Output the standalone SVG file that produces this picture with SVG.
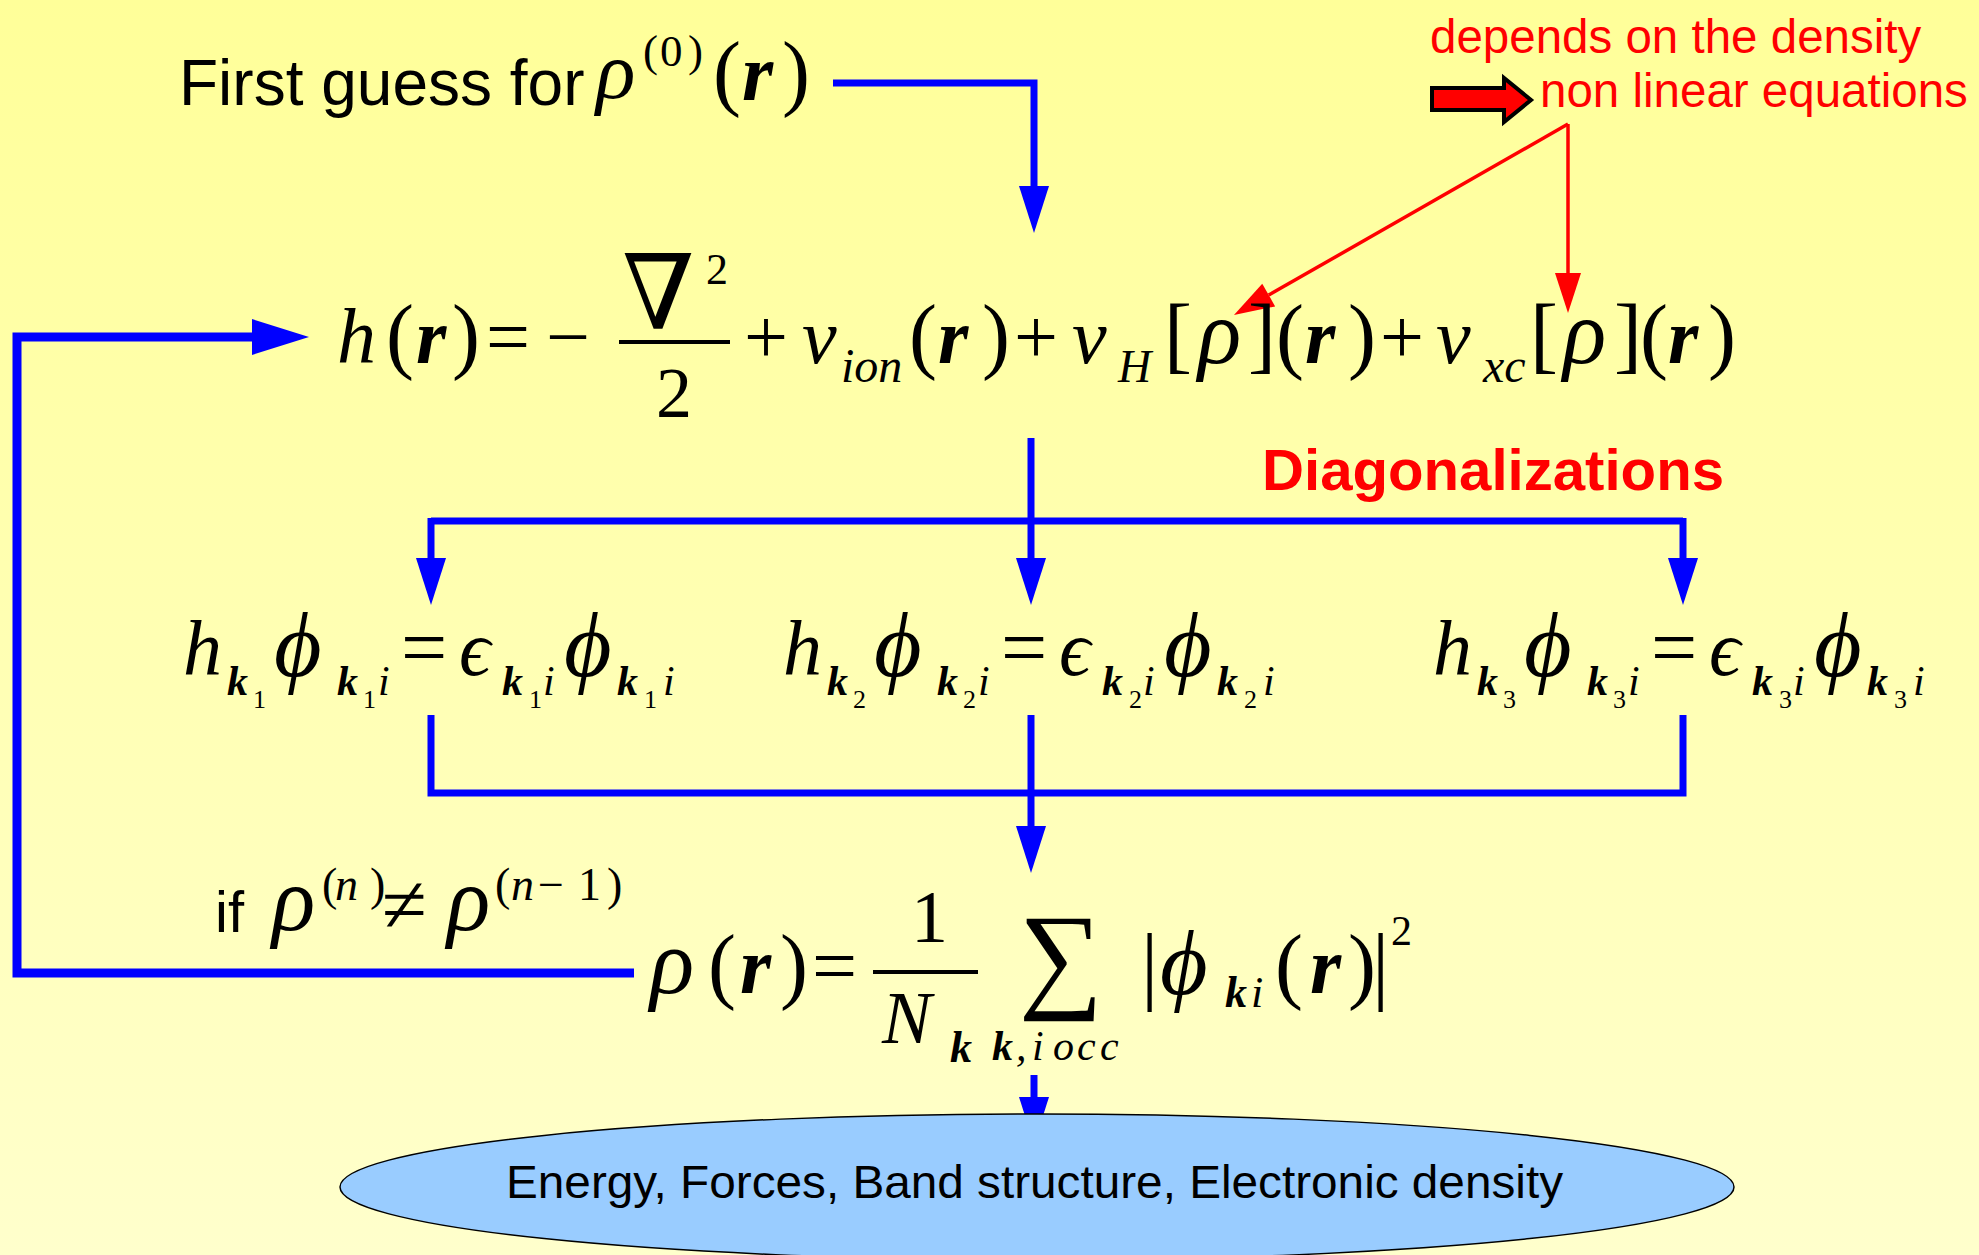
<svg xmlns="http://www.w3.org/2000/svg" width="1979" height="1255" viewBox="0 0 1979 1255">
<defs>
<linearGradient id="bg" x1="0" y1="0" x2="0" y2="1">
<stop offset="0" stop-color="#FFFF99"/>
<stop offset="1" stop-color="#FFFFCC"/>
</linearGradient>
<marker id="bh" markerUnits="userSpaceOnUse" markerWidth="48" markerHeight="30" refX="0" refY="15" orient="auto" overflow="visible">
<path d="M0,0 L47,15 L0,30 Z" fill="#0000FF"/>
</marker>
<marker id="bhBig" markerUnits="userSpaceOnUse" markerWidth="58" markerHeight="36" refX="0" refY="18" orient="auto" overflow="visible">
<path d="M0,0 L57,18 L0,36 Z" fill="#0000FF"/>
</marker>
<marker id="rh" markerUnits="userSpaceOnUse" markerWidth="40" markerHeight="26" refX="0" refY="13" orient="auto" overflow="visible">
<path d="M0,0 L40,13 L0,26 Z" fill="#FF0000"/>
</marker>
<style>
.m{font-family:"Liberation Serif","DejaVu Serif",serif;fill:#000}
.i{font-style:italic}
.b{font-weight:bold}
.sans{font-family:"Liberation Sans",Arial,sans-serif}
.blue{fill:none;stroke:#0000FF;stroke-width:7}
.loop{fill:none;stroke:#0000FF;stroke-width:9}
.red{fill:none;stroke:#FF0000;stroke-width:3.5}
.note{font-family:"Liberation Sans",Arial,sans-serif;font-size:47.5px;fill:#FF0000}
</style>
</defs>
<rect x="0" y="0" width="1979" height="1255" fill="url(#bg)"/>

<g id="connectors">
<path class="blue" d="M833,83 H1034 V186" marker-end="url(#bh)"/>
<path class="loop" d="M634,973 H17 V337 H252" marker-end="url(#bhBig)"/>
<path class="blue" d="M1031,438 V558" marker-end="url(#bh)"/>
<path class="blue" d="M431,521 H1683"/>
<path class="blue" d="M431,518 V558" marker-end="url(#bh)"/>
<path class="blue" d="M1683,518 V558" marker-end="url(#bh)"/>
<path class="blue" d="M431,715 V793 H1683 V715"/>
<path class="blue" d="M1031,715 V826" marker-end="url(#bh)"/>
<path class="blue" d="M1034,1075 V1097" marker-end="url(#bh)"/>
<path class="red" d="M1568,124 V273" marker-end="url(#rh)"/>
<path class="red" d="M1568,124 L1268.7,295.1" marker-end="url(#rh)"/>
</g>

<g id="note">
<text class="note" x="1430" y="53">depends on the density</text>
<polygon points="1432,88 1504,88 1504,78 1531,100 1504,122 1504,110 1432,110" fill="#FF0000" stroke="#000" stroke-width="4"/>
<text class="note" x="1540" y="107">non linear equations</text>
</g>

<g id="first-guess">
<text class="sans" x="179" y="105" font-size="64">First guess for</text>
<text class="m i" font-size="82" x="596" y="98">ρ</text>
<text class="m" font-size="45" y="66"><tspan x="643">(</tspan><tspan x="660">0</tspan><tspan x="688">)</tspan></text>
<text class="m" font-size="84" y="100"><tspan x="713">(</tspan><tspan x="782">)</tspan></text>
<text class="m i b" font-size="80" x="742" y="100">r</text>
</g>

<g id="hamiltonian">
<text class="m i" font-size="78" x="337" y="363">h</text>
<text class="m" font-size="84" y="363"><tspan x="386">(</tspan><tspan x="452">)</tspan></text>
<text class="m i b" font-size="78" x="416" y="363">r</text>
<text class="m" font-size="78" y="363"><tspan x="486">=</tspan><tspan x="546">−</tspan></text>
<text font-family="DejaVu Serif,serif" font-size="104" x="622" y="329">∇</text>
<text class="m" font-size="44" x="706" y="284">2</text>
<line x1="619" y1="342" x2="730" y2="342" stroke="#000" stroke-width="4"/>
<text class="m" font-size="72" x="656" y="417">2</text>
<text class="m" font-size="78" x="744" y="363">+</text>
<text class="m i" font-size="78" x="802" y="363">v</text>
<text class="m i" font-size="48" x="841" y="382">ion</text>
<text class="m" font-size="84" y="363"><tspan x="909">(</tspan><tspan x="982">)</tspan></text>
<text class="m i b" font-size="78" x="938" y="363">r</text>
<text class="m" font-size="78" x="1014" y="363">+</text>
<text class="m i" font-size="78" x="1072" y="363">v</text>
<text class="m i" font-size="46" x="1118" y="382">H</text>
<text class="m" font-size="84" y="363"><tspan x="1164">[</tspan><tspan x="1248">]</tspan></text>
<text class="m i" font-size="90" x="1198" y="363">ρ</text>
<text class="m" font-size="84" y="363"><tspan x="1276">(</tspan><tspan x="1348">)</tspan></text>
<text class="m i b" font-size="78" x="1305" y="363">r</text>
<text class="m" font-size="78" x="1380" y="363">+</text>
<text class="m i" font-size="78" x="1436" y="363">v</text>
<text class="m i" font-size="48" x="1483" y="382">xc</text>
<text class="m" font-size="84" y="363"><tspan x="1530">[</tspan><tspan x="1614">]</tspan></text>
<text class="m i" font-size="90" x="1563" y="363">ρ</text>
<text class="m" font-size="84" y="363"><tspan x="1640">(</tspan><tspan x="1708">)</tspan></text>
<text class="m i b" font-size="78" x="1668" y="363">r</text>
</g>

<g id="diag-label">
<text class="sans b" font-size="57" x="1262" y="490" fill="#FF0000" textLength="462" lengthAdjust="spacingAndGlyphs">Diagonalizations</text>
</g>

<g id="eig-1">
<text class="m i" font-size="78" x="183" y="675">h</text>
<text class="m i b" font-size="42" x="227" y="695">k</text>
<text class="m" font-size="26" x="253" y="708">1</text>
<text class="m i" font-size="92" x="274" y="676">ϕ</text>
<text class="m i b" font-size="42" x="337" y="695">k</text>
<text class="m" font-size="26" x="363" y="708">1</text>
<text class="m i" font-size="42" x="378" y="695">i</text>
<text class="m" font-size="82" x="401" y="675">=</text>
<text class="m i" font-size="78" x="459" y="675">ϵ</text>
<text class="m i b" font-size="42" x="502" y="695">k</text>
<text class="m" font-size="26" x="529" y="708">1</text>
<text class="m i" font-size="42" x="543" y="695">i</text>
<text class="m i" font-size="92" x="564" y="676">ϕ</text>
<text class="m i b" font-size="42" x="617" y="695">k</text>
<text class="m" font-size="26" x="644" y="708">1</text>
<text class="m i" font-size="42" x="663" y="695">i</text>
</g>

<g id="eig-2" transform="translate(600,0)">
<text class="m i" font-size="78" x="183" y="675">h</text>
<text class="m i b" font-size="42" x="227" y="695">k</text>
<text class="m" font-size="26" x="253" y="708">2</text>
<text class="m i" font-size="92" x="274" y="676">ϕ</text>
<text class="m i b" font-size="42" x="337" y="695">k</text>
<text class="m" font-size="26" x="363" y="708">2</text>
<text class="m i" font-size="42" x="378" y="695">i</text>
<text class="m" font-size="82" x="401" y="675">=</text>
<text class="m i" font-size="78" x="459" y="675">ϵ</text>
<text class="m i b" font-size="42" x="502" y="695">k</text>
<text class="m" font-size="26" x="529" y="708">2</text>
<text class="m i" font-size="42" x="543" y="695">i</text>
<text class="m i" font-size="92" x="564" y="676">ϕ</text>
<text class="m i b" font-size="42" x="617" y="695">k</text>
<text class="m" font-size="26" x="644" y="708">2</text>
<text class="m i" font-size="42" x="663" y="695">i</text>
</g>

<g id="eig-3" transform="translate(1250,0)">
<text class="m i" font-size="78" x="183" y="675">h</text>
<text class="m i b" font-size="42" x="227" y="695">k</text>
<text class="m" font-size="26" x="253" y="708">3</text>
<text class="m i" font-size="92" x="274" y="676">ϕ</text>
<text class="m i b" font-size="42" x="337" y="695">k</text>
<text class="m" font-size="26" x="363" y="708">3</text>
<text class="m i" font-size="42" x="378" y="695">i</text>
<text class="m" font-size="82" x="401" y="675">=</text>
<text class="m i" font-size="78" x="459" y="675">ϵ</text>
<text class="m i b" font-size="42" x="502" y="695">k</text>
<text class="m" font-size="26" x="529" y="708">3</text>
<text class="m i" font-size="42" x="543" y="695">i</text>
<text class="m i" font-size="92" x="564" y="676">ϕ</text>
<text class="m i b" font-size="42" x="617" y="695">k</text>
<text class="m" font-size="26" x="644" y="708">3</text>
<text class="m i" font-size="42" x="663" y="695">i</text>
</g>

<g id="condition">
<text class="sans" font-size="58" x="215" y="932">if</text>
<text class="m i" font-size="90" x="272" y="930">ρ</text>
<text class="m" font-size="46" y="900"><tspan x="322">(</tspan><tspan x="370">)</tspan></text>
<text class="m i" font-size="46" x="335" y="900">n</text>
<text class="m" font-size="82" x="382" y="932">≠</text>
<text class="m i" font-size="90" x="447" y="930">ρ</text>
<text class="m" font-size="46" y="900"><tspan x="495">(</tspan><tspan x="538">−</tspan><tspan x="578">1</tspan><tspan x="607">)</tspan></text>
<text class="m i" font-size="46" x="511" y="900">n</text>
</g>

<g id="density">
<text class="m i" font-size="92" x="650" y="993">ρ</text>
<text class="m" font-size="84" y="993"><tspan x="708">(</tspan><tspan x="780">)</tspan></text>
<text class="m i b" font-size="80" x="740" y="993">r</text>
<text class="m" font-size="80" x="812" y="993">=</text>
<text class="m" font-size="74" x="911" y="942">1</text>
<line x1="873" y1="972" x2="978" y2="972" stroke="#000" stroke-width="4"/>
<text class="m i" font-size="74" x="882" y="1043">N</text>
<text class="m i b" font-size="44" x="950" y="1062">k</text>
<text class="m" font-size="118" x="1019" y="996">∑</text>
<text class="m i b" font-size="42" x="992" y="1060">k</text>
<text class="m i" font-size="42" y="1060"><tspan x="1016">,</tspan><tspan x="1032">i</tspan><tspan x="1053">o</tspan><tspan x="1077">c</tspan><tspan x="1100">c</tspan></text>
<text class="m" font-size="86" y="993"><tspan x="1141">|</tspan><tspan x="1372">|</tspan></text>
<text class="m i" font-size="92" x="1160" y="994">ϕ</text>
<text class="m i b" font-size="44" x="1225" y="1007">k</text>
<text class="m i" font-size="44" x="1251" y="1007">i</text>
<text class="m" font-size="84" y="993"><tspan x="1275">(</tspan><tspan x="1348">)</tspan></text>
<text class="m i b" font-size="80" x="1310" y="993">r</text>
<text class="m" font-size="42" x="1391" y="945">2</text>
</g>

<g id="results">
<ellipse cx="1037" cy="1187" rx="697" ry="73" fill="#99CCFF" stroke="#000" stroke-width="1.5"/>
<text class="sans" font-size="46" x="506" y="1198" textLength="1057" lengthAdjust="spacingAndGlyphs">Energy, Forces, Band structure, Electronic density</text>
</g>
</svg>
